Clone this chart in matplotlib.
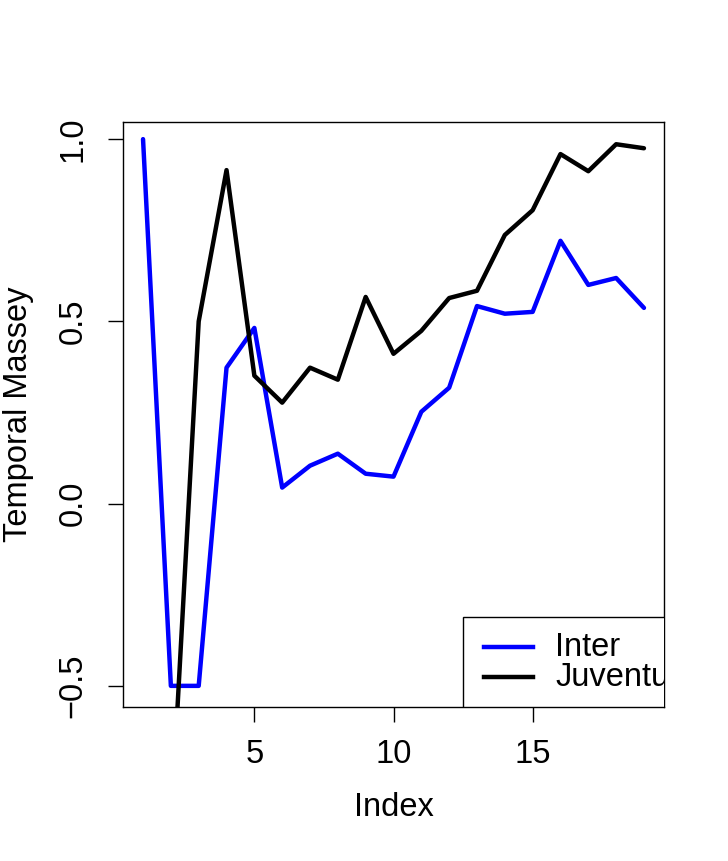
import matplotlib
matplotlib.use("Agg")
import matplotlib.pyplot as plt
from matplotlib.patches import Rectangle

index = list(range(1, 20))
inter = [1.0, -0.5, -0.5, 0.373, 0.482, 0.044, 0.104, 0.137, 0.082, 0.074,
         0.252, 0.318, 0.542, 0.521, 0.526, 0.721, 0.600, 0.619, 0.537]
juventus = [-1.0, -0.89, 0.5, 0.915, 0.351, 0.277, 0.373, 0.340, 0.567, 0.411,
            0.474, 0.564, 0.584, 0.737, 0.805, 0.959, 0.912, 0.986, 0.975]
series_names = ["Inter", "Juventus"]
series_colors = ["#0000ff", "#000000"]
x_ticks = [5, 10, 15]
y_ticks = [-0.5, 0.0, 0.5, 1.0]
y_tick_labels = ["\u22120.5", "0.0", "0.5", "1.0"]

plt.rcParams['font.family'] = ['Liberation Sans', 'DejaVu Sans']
fs = 23.5

fig = plt.figure(figsize=(7.28, 8.61), dpi=100)
ax = fig.add_axes([123/728, 1-707/861, (664-123)/728, (707-122)/861])

ax.plot(index, inter, color=series_colors[0], lw=3.2, solid_joinstyle='round', solid_capstyle='round')
ax.plot(index, juventus, color=series_colors[1], lw=3.2, solid_joinstyle='round', solid_capstyle='round')

ax.set_xlim(0.28, 19.72)
ax.set_ylim(-0.558, 1.047)

for s in ax.spines.values():
    s.set_linewidth(1.0)
ax.set_xticks(x_ticks)
ax.set_xticklabels([str(t) for t in x_ticks], fontsize=fs)
ax.set_yticks(y_ticks)
ax.set_yticklabels(y_tick_labels, fontsize=fs, rotation=90, va='center')
ax.tick_params(axis='both', direction='out', length=11, width=1.0)
ax.tick_params(axis='x', pad=12)
ax.tick_params(axis='y', pad=14)

fig.text(394/728, 1-808/861, "Index", fontsize=fs, ha='center', va='center')
fig.text(19/728, 1-414/861, "Temporal Massey", fontsize=fs, ha='center', va='center', rotation=90)

# legend (clipped at the plot edge, as in the reference)
lx0 = (463-123)/541
ltop = (707-617)/585
rect = Rectangle((lx0, 0), 1.2, ltop, transform=ax.transAxes, fill=True,
                 facecolor='white', edgecolor='black', lw=1.0, clip_on=True, zorder=5)
ax.add_patch(rect)
ys = [(707-647)/585, (707-677)/585]
for name, col, yy in zip(series_names, series_colors, ys):
    ax.plot([(484-123)/541, (533-123)/541], [yy, yy], transform=ax.transAxes,
            color=col, lw=3.2, zorder=6, clip_on=True)
    ax.text((555-123)/541, yy, name, transform=ax.transAxes, fontsize=fs,
            va='center', ha='left', zorder=6, clip_on=True)

fig.savefig("out.png", dpi=100)
